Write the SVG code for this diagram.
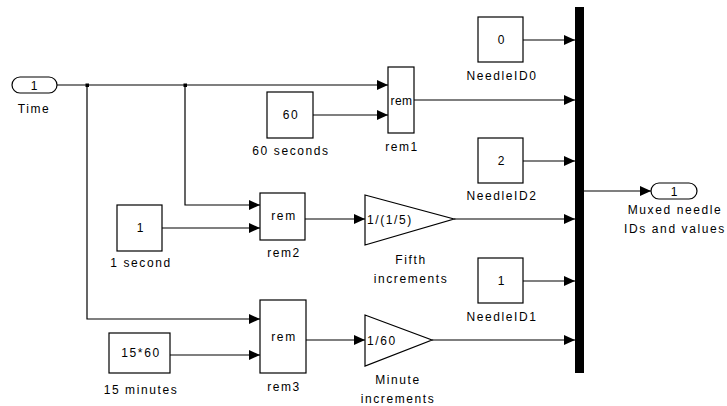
<svg xmlns="http://www.w3.org/2000/svg" width="727" height="406" viewBox="0 0 727 406">
<style>
.b{fill:#fff;stroke:#000;stroke-width:1.2}
.t{font-family:"Liberation Sans",Arial,sans-serif;font-size:12px;letter-spacing:1.6px;fill:#000;text-anchor:middle}
.ts{text-anchor:start}
.n{letter-spacing:0.4px}
.w{fill:none;stroke:#000;stroke-width:1.2}
</style>
<defs>
<marker id="a" markerUnits="userSpaceOnUse" markerWidth="11" markerHeight="10" refX="11" refY="5" orient="auto" viewBox="0 0 11 10">
<path d="M0,0 L11,5 L0,10 z" fill="#000"/>
</marker>
</defs>
<rect width="727" height="406" fill="#fff"/>
<g id="connectors">
<path class="w" d="M57,85 H388" marker-end="url(#a)"/>
<path class="w" d="M87,85 V319 H260" marker-end="url(#a)"/>
<path class="w" d="M185,85 V205 H260" marker-end="url(#a)"/>
<path class="w" d="M313,115 H388" marker-end="url(#a)"/>
<path class="w" d="M414,100 H575" marker-end="url(#a)"/>
<path class="w" d="M162,228 H260" marker-end="url(#a)"/>
<path class="w" d="M305,219 H365" marker-end="url(#a)"/>
<path class="w" d="M454,219 H575" marker-end="url(#a)"/>
<path class="w" d="M170,355 H260" marker-end="url(#a)"/>
<path class="w" d="M306,340 H365" marker-end="url(#a)"/>
<path class="w" d="M432,340 H575" marker-end="url(#a)"/>
<path class="w" d="M523,40 H575" marker-end="url(#a)"/>
<path class="w" d="M523,161 H575" marker-end="url(#a)"/>
<path class="w" d="M523,281 H575" marker-end="url(#a)"/>
<path class="w" d="M584,191 H651" marker-end="url(#a)"/>
<rect x="85.5" y="83.5" width="3.5" height="3.5" fill="#000"/>
<rect x="183.5" y="83.5" width="3.5" height="3.5" fill="#000"/>
</g>
<g id="time">
<rect class="b" x="12" y="77" width="45" height="16" rx="8"/>
<text class="t" x="35" y="89.5">1</text>
<text class="t" x="34" y="113">Time</text>
</g>
<g id="rem1">
<rect class="b" x="388" y="67" width="26" height="66"/>
<text class="t n" x="401.5" y="105">rem</text>
<text class="t" x="402" y="151">rem1</text>
</g>
<g id="c60">
<rect class="b" x="267" y="92" width="46" height="46"/>
<text class="t" x="291" y="119">60</text>
<text class="t" x="291" y="155">60 seconds</text>
</g>
<g id="c1">
<rect class="b" x="117" y="205" width="45" height="46"/>
<text class="t" x="141" y="232">1</text>
<text class="t" x="141" y="267">1 second</text>
</g>
<g id="rem2">
<rect class="b" x="260" y="193" width="45" height="47"/>
<text class="t" x="284" y="220">rem</text>
<text class="t" x="284" y="257">rem2</text>
</g>
<g id="c1560">
<rect class="b" x="109" y="333" width="61" height="40"/>
<text class="t" x="141" y="357">15*60</text>
<text class="t" x="141" y="394">15 minutes</text>
</g>
<g id="rem3">
<rect class="b" x="260" y="300" width="46" height="73"/>
<text class="t" x="284" y="341">rem</text>
<text class="t" x="284" y="391">rem3</text>
</g>
<g id="fifth">
<path class="b" d="M365,195 L454,219 L365,245 z"/>
<text class="t ts" x="367" y="224">1/(1/5)</text>
<text class="t" x="411" y="264">Fifth</text>
<text class="t" x="411" y="283">increments</text>
</g>
<g id="minute">
<path class="b" d="M365,315 L432,340 L365,366 z"/>
<text class="t ts" x="367" y="345">1/60</text>
<text class="t" x="398" y="384">Minute</text>
<text class="t" x="398" y="403">increments</text>
</g>
<g id="needle0">
<rect class="b" x="478" y="17" width="45" height="45"/>
<text class="t" x="502" y="44">0</text>
<text class="t" x="502" y="80">NeedleID0</text>
</g>
<g id="needle2">
<rect class="b" x="478" y="138" width="45" height="45"/>
<text class="t" x="502" y="165">2</text>
<text class="t" x="502" y="200">NeedleID2</text>
</g>
<g id="needle1">
<rect class="b" x="478" y="258" width="45" height="45"/>
<text class="t" x="502" y="285">1</text>
<text class="t" x="502" y="321">NeedleID1</text>
</g>
<g id="mux">
<rect x="575" y="7" width="9" height="366" fill="#000"/>
</g>
<g id="out">
<rect class="b" x="651" y="183" width="46" height="16" rx="8"/>
<text class="t" x="675" y="195.5">1</text>
<text class="t" x="675" y="214">Muxed needle</text>
<text class="t" x="675" y="233">IDs and values</text>
</g>
</svg>
